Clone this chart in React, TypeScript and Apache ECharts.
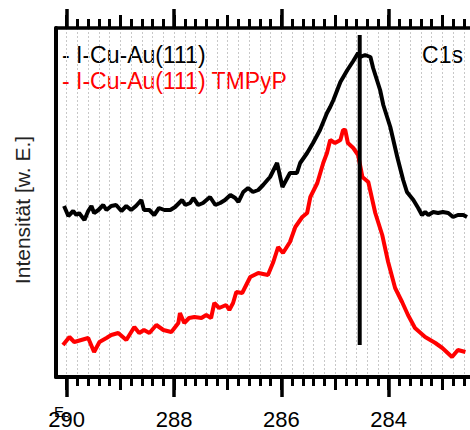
import React, { useEffect, useRef } from 'react';
import * as echarts from 'echarts';

// ---- data (binding energy in eV, intensity in arbitrary units) ----
const blackEnergy = [
  290.05, 289.97, 289.88, 289.82, 289.77, 289.67, 289.6, 289.54, 289.49, 289.41,
  289.32, 289.26, 289.17, 289.08, 288.98, 288.89, 288.8, 288.71, 288.61, 288.56,
  288.46, 288.37, 288.28, 288.18, 288.07, 287.98, 287.85, 287.79, 287.7, 287.64,
  287.55, 287.46, 287.33, 287.23, 287.14, 287.05, 286.95, 286.86, 286.8, 286.71,
  286.62, 286.53, 286.43, 286.34, 286.26, 286.21, 286.08, 285.98, 285.84, 285.71,
  285.65, 285.52, 285.41, 285.28, 285.15, 285.09, 285.03, 284.9, 284.77, 284.66,
  284.57, 284.53, 284.44, 284.34, 284.29, 284.16, 284.1, 283.97, 283.84, 283.73,
  283.66, 283.54, 283.45, 283.38, 283.32, 283.26, 283.17, 283.08, 282.99, 282.89,
  282.8, 282.71, 282.61, 282.54,
];
const blackIntensity = [
  171, 161, 166, 162, 164, 157, 166, 171, 164, 167,
  172, 167, 171, 172, 166, 171, 167, 171, 177, 167,
  167, 162, 169, 167, 167, 170, 177, 172, 174, 179,
  172, 174, 180, 172, 174, 177, 182, 179, 175, 185,
  189, 185, 187, 192, 197, 200, 214, 190, 204, 204,
  214, 224, 234, 247, 264, 270, 277, 295, 307, 316,
  324, 320, 322, 320, 309, 287, 272, 250, 220, 197,
  185, 177, 169, 162, 165, 162, 165, 164, 165, 164,
  160, 162, 162, 160,
];
const redEnergy = [
  290.07, 289.95, 289.86, 289.73, 289.6, 289.49, 289.39, 289.26, 289.17, 289.04,
  288.89, 288.74, 288.65, 288.56, 288.46, 288.33, 288.2, 288.05, 287.92, 287.89,
  287.81, 287.72, 287.62, 287.49, 287.4, 287.31, 287.25, 287.16, 287.03, 286.97,
  286.9, 286.84, 286.73, 286.58, 286.43, 286.25, 286.15, 286.06, 285.97, 285.84,
  285.74, 285.61, 285.52, 285.46, 285.33, 285.22, 285.15, 285.09, 285.0, 284.9,
  284.85, 284.81, 284.76, 284.66, 284.57, 284.49, 284.38, 284.25, 284.12, 284.01,
  283.88, 283.75, 283.64, 283.51, 283.32, 283.13, 283.0, 282.82, 282.71, 282.57,
];
const redIntensity = [
  32, 40, 35, 37, 39, 25, 35, 39, 42, 44,
  37, 50, 44, 47, 44, 52, 47, 45, 54, 64,
  54, 59, 60, 59, 62, 59, 74, 69, 72, 67,
  74, 85, 84, 100, 104, 102, 115, 130, 124, 135,
  150, 160, 164, 180, 194, 214, 224, 237, 234, 237,
  247, 247, 234, 229, 222, 200, 195, 164, 142, 115,
  89, 75, 62, 49, 40, 34, 29, 20, 27, 25,
];
const markerEnergy = 284.54;
const markerIntensity = [32, 342];
const majorTickValues = [290, 288, 286, 284];
const seriesNames = ['- I-Cu-Au(111)', '- I-Cu-Au(111) TMPyP'];
const peakLabel = 'C1s';
const yAxisTitle = 'Intensität [w. E.]';

const X_MIN = 282;
const X_MAX = 290.2;
const Y_MIN = 0;
const Y_MAX = 349;

const FONT = '"Liberation Sans", Arial, sans-serif';

const minorTickValues: number[] = [];
for (let i = 1; i <= 40; i++) minorTickValues.push(+(X_MIN + 0.2 * i).toFixed(1));
const mediumTickValues: number[] = [];
for (let v = 283; v <= 290; v++) mediumTickValues.push(v);

function xAxisBase(position: 'top' | 'bottom', ticks: number[], length: number, width: number, showLine: boolean, lineWidth: number) {
  return {
    type: 'value',
    gridIndex: 0,
    min: X_MIN,
    max: X_MAX,
    inverse: true,
    position,
    axisLine: { show: showLine, onZero: false, lineStyle: { color: '#000', width: lineWidth } },
    axisTick: {
      show: true,
      inside: false,
      customValues: ticks,
      length,
      lineStyle: { color: '#000', width },
    },
    axisLabel: { show: false },
    splitLine: { show: false },
  };
}

export default function App() {
  const ref = useRef<HTMLDivElement>(null);

  useEffect(() => {
    if (!ref.current) return;
    const chart = echarts.init(ref.current, undefined, { renderer: 'svg' });

    const blackData = blackEnergy.map((e, i) => [e, blackIntensity[i]]);
    const redData = redEnergy.map((e, i) => [e, redIntensity[i]]);
    const markerData = markerIntensity.map((v) => [markerEnergy, v]);

    const bottomMinor: any = xAxisBase('bottom', minorTickValues, 9, 3, true, 4);
    bottomMinor.splitLine = { show: true, lineStyle: { color: '#c8c8c8', width: 1, type: [2, 2] } };
    bottomMinor.z = 0;

    const bottomMajor: any = xAxisBase('bottom', majorTickValues, 20, 3.5, false, 4);
    bottomMajor.axisLabel = {
      show: true,
      customValues: majorTickValues,
      margin: 31,
      color: '#000',
      fontSize: 22,
      fontFamily: FONT,
      formatter: (v: number) => String(Math.round(v)),
    };

    chart.setOption({
      animation: false,
      backgroundColor: '#fff',
      grid: {
        left: 56,
        top: 28,
        bottom: 53,
        right: -26,
        containLabel: false,
        outerBoundsMode: 'none',
      },
      xAxis: [
        bottomMinor,
        xAxisBase('bottom', mediumTickValues, 13, 3, false, 4),
        bottomMajor,
        xAxisBase('top', minorTickValues, 9, 3, true, 3.5),
        xAxisBase('top', mediumTickValues, 13, 3, false, 3.5),
        xAxisBase('top', majorTickValues, 19, 3.5, false, 3.5),
      ],
      yAxis: {
        type: 'value',
        min: Y_MIN,
        max: Y_MAX,
        position: 'left',
        axisLine: { show: true, onZero: false, lineStyle: { color: '#000', width: 4 } },
        axisTick: { show: false },
        axisLabel: { show: false },
        splitLine: { show: false },
      },
      series: [
        {
          name: seriesNames[0],
          type: 'line',
          xAxisIndex: 0,
          data: blackData,
          showSymbol: false,
          symbol: 'none',
          lineStyle: { color: '#000', width: 4 },
          z: 3,
        },
        {
          name: seriesNames[1],
          type: 'line',
          xAxisIndex: 0,
          data: redData,
          showSymbol: false,
          symbol: 'none',
          lineStyle: { color: '#ff0000', width: 4 },
          z: 3,
        },
        {
          name: 'marker',
          type: 'line',
          xAxisIndex: 0,
          data: markerData,
          showSymbol: false,
          symbol: 'none',
          lineStyle: { color: '#000', width: 4 },
          z: 4,
        },
      ],
      graphic: [
        {
          type: 'text',
          x: 62,
          y: 55,
          style: { text: seriesNames[0], fill: '#000', fontSize: 23, fontFamily: FONT, verticalAlign: 'middle' },
        },
        {
          type: 'text',
          x: 62,
          y: 81,
          style: { text: seriesNames[1], fill: '#ff0000', fontSize: 23, fontFamily: FONT, verticalAlign: 'middle' },
        },
        {
          type: 'text',
          x: 463,
          y: 55,
          style: { text: peakLabel, fill: '#000', fontSize: 23, fontFamily: FONT, align: 'right', verticalAlign: 'middle' },
        },
        {
          type: 'text',
          x: 22,
          y: 210,
          rotation: Math.PI / 2,
          style: { text: yAxisTitle, fill: '#222', fontSize: 21, fontFamily: FONT, align: 'center', verticalAlign: 'middle' },
        },
        {
          type: 'text',
          x: 54,
          y: 411,
          style: { text: 'E', fill: '#000', fontSize: 15, fontFamily: FONT, verticalAlign: 'middle' },
        },
        {
          type: 'text',
          x: 63,
          y: 417,
          style: { text: 'B', fill: '#000', fontSize: 11, fontFamily: FONT, verticalAlign: 'middle' },
        },
      ],
    });

    return () => chart.dispose();
  }, []);

  return (
    <div
      ref={ref}
      style={{ position: 'fixed', left: 0, top: 0, width: 470, height: 430, background: '#fff' }}
    />
  );
}
